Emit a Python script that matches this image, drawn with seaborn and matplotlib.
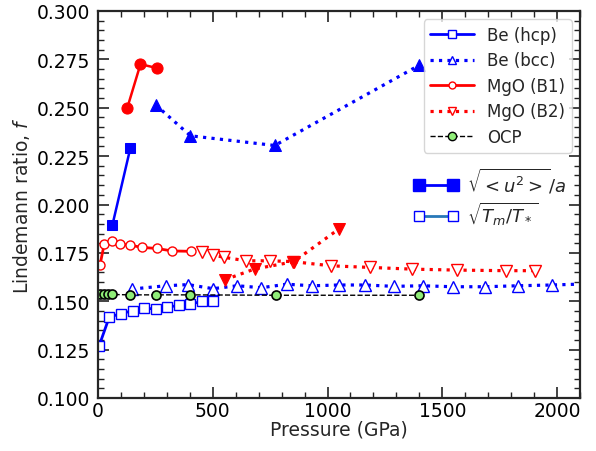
import matplotlib
matplotlib.use("Agg")
import matplotlib.pyplot as plt
import seaborn as sns
from matplotlib.lines import Line2D
from matplotlib.ticker import MultipleLocator

# ---------------- data ----------------
hcp_P = [5, 49, 100, 151, 201, 251, 301, 352, 403, 451, 501]
hcp_f = [0.127, 0.1418, 0.1436, 0.1451, 0.1464, 0.1460, 0.1469, 0.1479, 0.1485, 0.1499, 0.1499]
hcp_fill_P = [63, 141]
hcp_fill_f = [0.1895, 0.2292]

bcc_P = [147, 296, 393, 501, 607, 712, 822, 933, 1049, 1165, 1288, 1414, 1545, 1687, 1828, 1977, 2140]
bcc_f = [0.1563, 0.1580, 0.1586, 0.1565, 0.1580, 0.1570, 0.1588, 0.1580, 0.1584, 0.1584, 0.1577,
         0.1580, 0.1575, 0.1575, 0.1580, 0.1584, 0.1590]
bcc_fill_P = [251, 403, 770, 1400]
bcc_fill_f = [0.2515, 0.2355, 0.2305, 0.2720]

B1_P = [9, 27, 59, 96, 139, 193, 255, 323, 404]
B1_f = [0.1689, 0.1795, 0.1810, 0.1795, 0.1790, 0.1778, 0.1773, 0.1760, 0.1758]
B1_fill_P = [128, 185, 258]
B1_fill_f = [0.2501, 0.2725, 0.2705]

B2_P = [454, 501, 549, 646, 748, 848, 1016, 1183, 1368, 1564, 1777, 1903]
B2_f = [0.1752, 0.1739, 0.1727, 0.1709, 0.1709, 0.1705, 0.1683, 0.1675, 0.1666, 0.1661, 0.1658, 0.1658]
B2_fill_P = [552, 683, 852, 1049]
B2_fill_f = [0.1611, 0.1667, 0.1704, 0.1873]

OCP_P = [8, 25, 43, 62, 140, 251, 403, 774, 1397]
OCP_f = [0.1535, 0.1535, 0.1535, 0.1535, 0.1533, 0.1533, 0.1533, 0.1531, 0.1531]

series_labels = ["Be (hcp)", "Be (bcc)", "MgO (B1)", "MgO (B2)", "OCP"]

# ---------------- style ----------------
sns.set_style("ticks")
plt.rcParams.update({
    "font.family": ["DejaVu Sans"],
    "font.size": 13.5,
    "axes.linewidth": 1.6,
    "xtick.direction": "in",
    "ytick.direction": "in",
    "xtick.top": True,
    "ytick.right": True,
    "xtick.major.size": 8,
    "ytick.major.size": 8,
    "xtick.minor.size": 4,
    "ytick.minor.size": 4,
    "xtick.major.width": 1.2,
    "ytick.major.width": 1.2,
    "xtick.minor.width": 1.0,
    "ytick.minor.width": 1.0,
    "xtick.major.pad": 2,
    "ytick.major.pad": 6,
    "xtick.color": "#222222",
    "ytick.color": "#222222",
    "xtick.labelcolor": "black",
    "ytick.labelcolor": "black",
    "xtick.labelsize": 13.5,
    "ytick.labelsize": 13.5,
})

fig = plt.figure(figsize=(5.96, 4.52), dpi=100)
ax = fig.add_axes([98 / 596, 1 - 399 / 452, (580 - 98) / 596, (399 - 12) / 452])

common = dict(ax=ax, estimator=None, sort=False, legend=False)

# Be hcp
sns.lineplot(x=hcp_P, y=hcp_f, color="blue", linestyle="-", lw=2, marker="s", ms=7,
             mfc="white", mec="blue", mew=1.0, **common)
sns.lineplot(x=hcp_fill_P, y=hcp_fill_f, color="blue", linestyle="-", lw=1.8, marker="s", ms=7.5,
             mfc="blue", mec="blue", **common)
# Be bcc
sns.lineplot(x=bcc_P, y=bcc_f, color="blue", linestyle=":", lw=2.3, marker="^", ms=8,
             mfc="white", mec="blue", mew=1.0, **common)
sns.lineplot(x=bcc_fill_P, y=bcc_fill_f, color="blue", linestyle=":", lw=2.3, marker="^", ms=8.5,
             mfc="blue", mec="blue", **common)
# MgO B1
sns.lineplot(x=B1_P, y=B1_f, color="red", linestyle="-", lw=2, marker="o", ms=6.5,
             mfc="white", mec="red", mew=1.0, **common)
sns.lineplot(x=B1_fill_P, y=B1_fill_f, color="red", linestyle="-", lw=1.8, marker="o", ms=8,
             mfc="red", mec="red", **common)
# MgO B2
sns.lineplot(x=B2_P, y=B2_f, color="red", linestyle=":", lw=2.3, marker="v", ms=8,
             mfc="white", mec="red", mew=1.0, **common)
sns.lineplot(x=B2_fill_P, y=B2_fill_f, color="red", linestyle=":", lw=2.3, marker="v", ms=8.5,
             mfc="red", mec="red", **common)
# OCP
sns.lineplot(x=OCP_P, y=OCP_f, color="black", linestyle="--", lw=1.0, marker="o", ms=6.5,
             mfc="#90ee78", mec="black", mew=1.2, **common)

ax.set_xlim(0, 2100)
ax.set_ylim(0.1, 0.3)
ax.xaxis.set_major_locator(MultipleLocator(500))
ax.xaxis.set_minor_locator(MultipleLocator(100))
ax.yaxis.set_major_locator(MultipleLocator(0.025))
ax.yaxis.set_minor_locator(MultipleLocator(0.005))
ax.yaxis.set_major_formatter(matplotlib.ticker.FormatStrFormatter("%.3f"))
ax.tick_params(which="both", top=True, right=True)
ax.set_xlabel("Pressure (GPa)", fontsize=13.5, labelpad=0)
ax.set_ylabel("Lindemann ratio, $f$", fontsize=13.5, labelpad=3)

# legend 1
h1 = [
    Line2D([], [], color="blue", ls="-", lw=2, marker="s", ms=5.5, mfc="white", mec="blue"),
    Line2D([], [], color="blue", ls=":", lw=2.3, marker="^", ms=6, mfc="white", mec="blue"),
    Line2D([], [], color="red", ls="-", lw=2, marker="o", ms=5, mfc="white", mec="red"),
    Line2D([], [], color="red", ls=":", lw=2.3, marker="v", ms=6, mfc="white", mec="red"),
    Line2D([], [], color="black", ls="--", lw=1.0, marker="o", ms=6, mfc="#90ee78", mec="black"),
]
leg1 = ax.legend(h1, series_labels, loc="upper right", fontsize=12, handlelength=2.6,
                 frameon=True, fancybox=True, framealpha=0.8, edgecolor="#cccccc",
                 borderaxespad=0.5, labelspacing=0.45, handletextpad=0.8)
ax.add_artist(leg1)

h2 = [
    Line2D([], [], color="blue", ls="-", lw=2, marker="s", ms=8, mfc="blue", mec="blue"),
    Line2D([], [], color="#2878b8", ls="-", lw=2, marker="s", ms=7, mfc="white", mec="blue"),
]
ax.legend(h2, [r"$\sqrt{<u^2>}/a$", r"$\sqrt{T_m/T_*}$"], loc="upper right",
          bbox_to_anchor=(1.006, 0.64), numpoints=2, fontsize=13, frameon=False,
          handlelength=2.45, labelspacing=0.25, handletextpad=0.5)

fig.savefig("out.png", dpi=100)
